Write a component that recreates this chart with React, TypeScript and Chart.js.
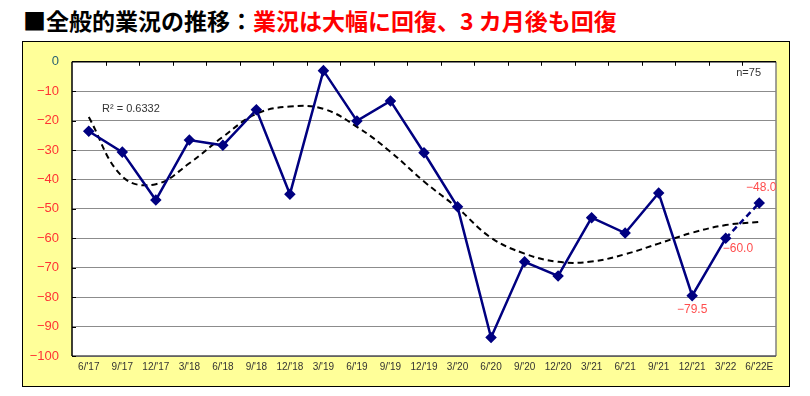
import React, { useEffect, useRef } from "react";
import { Chart, registerables } from "chart.js";

Chart.register(...registerables);

const categories = [
  "6/'17", "9/'17", "12/'17", "3/'18", "6/'18", "9/'18", "12/'18", "3/'19", "6/'19", "9/'19",
  "12/'19", "3/'20", "6/'20", "9/'20", "12/'20", "3/'21", "6/'21", "9/'21", "12/'21", "3/'22", "6/'22E",
];
const diValues = [
  -23.6, -30.7, -47.0, -26.6, -28.4, -16.3, -45.0, -3.0, -20.1, -13.3,
  -30.9, -49.3, -93.7, -68.0, -72.8, -53.0, -58.2, -44.6, -79.5, -60.0, -48.0,
];
const trendValues = [
  -18.8, -39.0, -41.6, -34.5, -25.5, -17.7, -15.2, -16.0, -22.1, -30.6,
  -40.7, -49.7, -59.8, -65.2, -68.0, -67.9, -65.4, -61.8, -58.1, -55.5, -54.4,
];
const labeledIndexes = [18, 19, 20];
const labeledPlacements = ["below", "right", "above"];
const yTickMin = -100;
const yTickMax = 0;
const yTickStep = 10;
const titleBlack = "■全般的業況の推移：";
const titleRed = "業況は大幅に回復、3 カ月後も回復";
const r2Text = "R² = 0.6332";
const nText = "n=75";

const minus = (v: number, digits = 0) =>
  v < 0 ? "\u2212" + Math.abs(v).toFixed(digits) : v.toFixed(digits);

const framePlugin = {
  id: "frame",
  beforeDraw(chart: any) {
    const { ctx, chartArea: a } = chart;
    ctx.save();
    ctx.fillStyle = "#ffffff";
    ctx.fillRect(a.left, a.top, a.right - a.left, a.bottom - a.top);
    ctx.restore();
  },
  beforeDatasetsDraw(chart: any) {
    const { ctx, chartArea: a, scales } = chart;
    const x = scales.x;
    const y = scales.y;
    ctx.save();
    ctx.strokeStyle = "#808080";
    ctx.lineWidth = 1.5;
    ctx.beginPath();
    ctx.moveTo(a.right, a.top);
    ctx.lineTo(a.right, a.bottom);
    ctx.stroke();
    ctx.strokeStyle = "#555555";
    ctx.beginPath();
    ctx.moveTo(a.left, a.bottom);
    ctx.lineTo(a.right, a.bottom);
    ctx.stroke();
    ctx.strokeStyle = "#000000";
    ctx.lineWidth = 1.5;
    ctx.beginPath();
    ctx.moveTo(a.left, a.top);
    ctx.lineTo(a.right, a.top);
    ctx.moveTo(a.left, a.top);
    ctx.lineTo(a.left, a.bottom);
    ctx.stroke();
    ctx.lineWidth = 1;
    ctx.beginPath();
    const half = (x.getPixelForValue(1) - x.getPixelForValue(0)) / 2;
    for (let i = 1; i < categories.length; i++) {
      const px = Math.round(x.getPixelForValue(i) - half) + 0.5;
      ctx.moveTo(px, a.top);
      ctx.lineTo(px, a.top + 4);
    }
    for (let v = yTickMin; v < yTickMax; v += yTickStep) {
      const py = Math.round(y.getPixelForValue(v)) + 0.5;
      ctx.moveTo(a.left, py);
      ctx.lineTo(a.left + 4, py);
    }
    ctx.stroke();
    ctx.restore();
  },
  afterDatasetsDraw(chart: any) {
    const { ctx, chartArea: a } = chart;
    const meta = chart.getDatasetMeta(0);
    ctx.save();
    ctx.font = "12px 'Liberation Sans', Arial, sans-serif";
    ctx.fillStyle = "#ff4d4d";
    labeledIndexes.forEach((idx, k) => {
      const el = meta.data[idx];
      const text = minus(diValues[idx], 1);
      const place = labeledPlacements[k];
      ctx.textBaseline = "middle";
      if (place === "below") {
        ctx.textAlign = "center";
        ctx.fillText(text, el.x, el.y + 14);
      } else if (place === "above") {
        ctx.textAlign = "center";
        ctx.fillText(text, el.x + 2, el.y - 15);
      } else {
        ctx.textAlign = "left";
        ctx.fillText(text, el.x - 3, el.y + 10);
      }
    });
    ctx.fillStyle = "#333333";
    ctx.font = "11px 'Liberation Sans', Arial, sans-serif";
    ctx.textAlign = "left";
    ctx.textBaseline = "middle";
    ctx.fillText(r2Text, a.left + 30, a.top + 47);
    ctx.textAlign = "right";
    ctx.fillText(nText, a.right - 15, a.top + 11);
    ctx.restore();
  },
};

export default function App() {
  const ref = useRef<HTMLCanvasElement | null>(null);

  useEffect(() => {
    if (!ref.current) return;
    const chart = new Chart(ref.current, {
      type: "line",
      data: {
        labels: categories,
        datasets: [
          {
            label: "DI",
            data: diValues,
            borderColor: "#000080",
            backgroundColor: "#000080",
            borderWidth: 2.5,
            pointStyle: "rectRot",
            pointRadius: 4,
            pointBackgroundColor: "#000080",
            pointBorderColor: "#000080",
            tension: 0,
            order: 0,
            segment: {
              borderDash: (c: any) => (c.p1DataIndex === categories.length - 1 ? [6, 4] : undefined),
            },
          },
          {
            label: "trend",
            data: trendValues,
            borderColor: "#000000",
            borderWidth: 2,
            borderDash: [6, 4],
            pointRadius: 0,
            tension: 0.4,
            order: 1,
          },
        ],
      },
      options: {
        responsive: false,
        animation: false,
        layout: { padding: { top: 18, right: 14, left: 0, bottom: 0 } },
        plugins: {
          legend: { display: false },
          tooltip: { enabled: false },
        },
        scales: {
          x: {
            type: "category",
            offset: true,
            grid: { display: false, drawTicks: false },
            border: { display: false },
            ticks: {
              autoSkip: false,
              maxRotation: 0,
              minRotation: 0,
              padding: 5,
              color: "#333333",
              font: { size: 10, family: "'Liberation Sans', Arial, sans-serif" },
            },
            afterFit: (s: any) => {
              s.height = 31;
            },
          },
          y: {
            min: yTickMin,
            max: yTickMax,
            grid: { color: "#8c8c8c", lineWidth: 1, drawTicks: false },
            border: { display: false },
            ticks: {
              stepSize: yTickStep,
              padding: 13,
              color: (c: any) => (c.tick && c.tick.value === 0 ? "#2a6272" : "#ff3333"),
              font: { size: 13, family: "'Liberation Sans', Arial, sans-serif" },
              callback: (v: any) => minus(Number(v)),
            },
            afterFit: (s: any) => {
              s.width = 50;
            },
          },
        },
      },
      plugins: [framePlugin],
    });
    return () => chart.destroy();
  }, []);

  return (
    <div style={{ position: "fixed", left: 0, top: 0, width: 810, height: 396, background: "#ffffff", overflow: "hidden" }}>
      <div
        style={{
          position: "absolute",
          left: 23,
          top: 8,
          fontFamily: "'Noto Sans CJK JP', sans-serif",
          fontWeight: 700,
          fontSize: 23,
          lineHeight: "25px",
          whiteSpace: "nowrap",
        }}
      >
        <span style={{ color: "#000000" }}>{titleBlack}</span>
        <span style={{ color: "#ff0000" }}>{titleRed}</span>
      </div>
      <div
        style={{
          position: "absolute",
          left: 22,
          top: 41,
          width: 768,
          height: 346,
          boxSizing: "border-box",
          border: "1.5px solid #000000",
          background: "#ffff99",
        }}
      />
      <canvas
        ref={ref}
        width={768}
        height={346}
        style={{ position: "absolute", left: 22, top: 41, width: 768, height: 346 }}
      />
    </div>
  );
}
